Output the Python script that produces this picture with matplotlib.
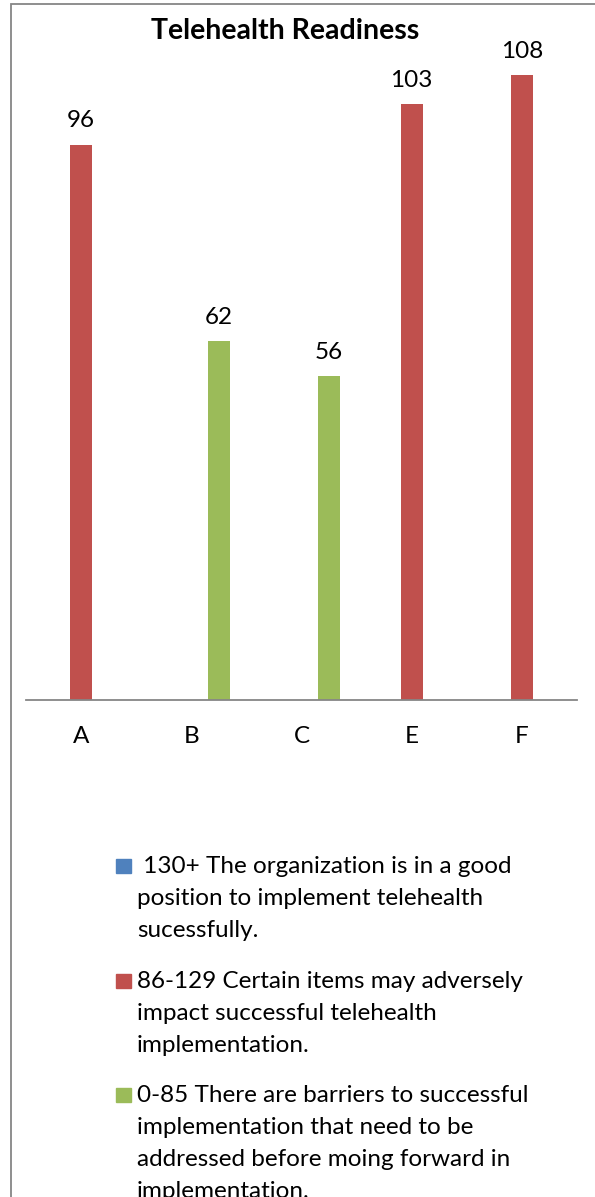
import numpy as np
import matplotlib
matplotlib.use("Agg")
import matplotlib.pyplot as plt
from matplotlib.patches import Rectangle

plt.rcParams['font.family'] = ['Lato', 'DejaVu Sans']

categories = ["A", "B", "C", "E", "F"]
blue_vals = [np.nan, np.nan, np.nan, np.nan, np.nan]
red_vals = [96, np.nan, np.nan, 103, 108]
green_vals = [np.nan, 62, 56, np.nan, np.nan]
series_colors = ["#4F81BD", "#C0504D", "#9BBB59"]
legend_lines = [
    [" 130+ The organization is in a good", "position to implement telehealth", "sucessfully."],
    ["86-129 Certain items may adversely", "impact successful telehealth", "implementation."],
    ["0-85 There are barriers to successful", "implementation that need to be",
     "addressed before moing forward in", "implementation."],
]

W, H = 595, 1197
fig = plt.figure(figsize=(W / 100, H / 100), dpi=100)

def fx(px):
    return px / W

def fy(py):
    return 1 - py / H

# outer chart border
fig.patches.append(Rectangle((fx(11), fy(1250)), fx(640), 1246 / H, transform=fig.transFigure,
                             fill=False, edgecolor="#868686", linewidth=1.3))

ymax = 120
ax = fig.add_axes([fx(26), fy(700), fx(551), 120 * 5.785 / H])
x = np.arange(len(categories))
width = 0.2
for i, (vals, col) in enumerate(zip([blue_vals, red_vals, green_vals], series_colors)):
    bars = ax.bar(x + (i - 1) * 0.25, vals, width, color=col)
    for b, v in zip(bars, vals):
        if not np.isnan(v):
            ax.annotate(f"{v:g}", (b.get_x() + b.get_width() / 2, v), xytext=(0, 12.5),
                        textcoords="offset points", ha="center", va="baseline", fontsize=17.5)

ax.set_xlim(-0.5, len(categories) - 0.5)
ax.set_ylim(0, ymax)
ax.set_xticks(x)
ax.set_xticklabels(categories, fontsize=17.5)
ax.tick_params(axis="x", length=0, pad=19)
ax.set_yticks([])
for s in ["top", "right", "left"]:
    ax.spines[s].set_visible(False)
ax.spines["bottom"].set_color("#868686")
ax.spines["bottom"].set_linewidth(1.3)

fig.text(fx(285), fy(39), "Telehealth Readiness", ha="center", va="baseline",
         fontsize=20.5, fontweight="bold")

# legend
first_baselines = [873, 988, 1102]
for col, lines, base in zip(series_colors, legend_lines, first_baselines):
    fig.patches.append(Rectangle((fx(116), fy(base)), fx(15), 14 / H,
                                 transform=fig.transFigure, color=col))
    for k, line in enumerate(lines):
        fig.text(fx(137), fy(base + 32 * k), line, ha="left", va="baseline", fontsize=17.5)

fig.savefig("out.png", dpi=100)
